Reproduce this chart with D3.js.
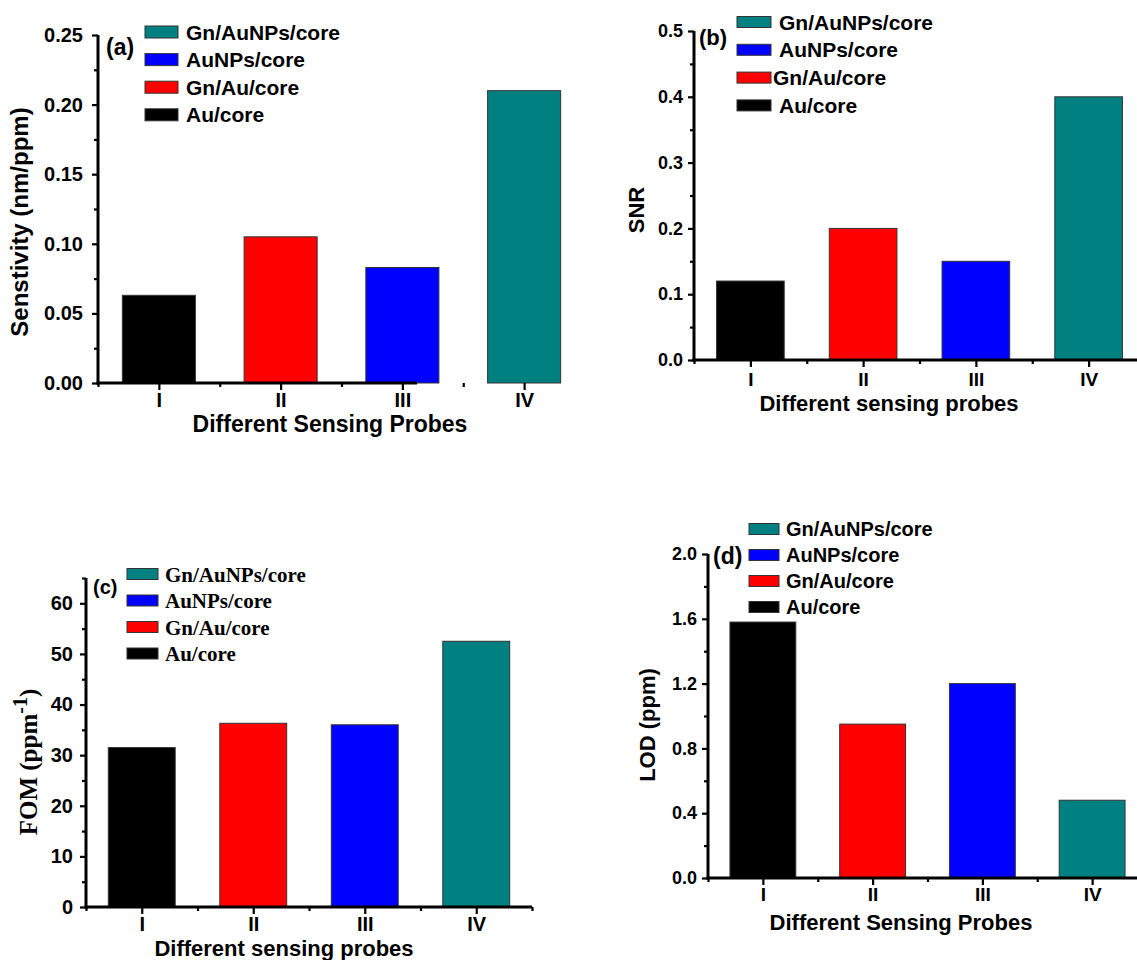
<!DOCTYPE html>
<html>
<head>
<meta charset="utf-8">
<script src="https://cdn.jsdelivr.net/npm/d3@7"></script>
<style>
  body { margin: 0; background: #fff; }
  svg { display: block; }
</style>
</head>
<body>
<svg id="fig" width="1137" height="960"></svg>
<script>
// ---- data ----
const probes = ["I", "II", "III", "IV"];
const materials = ["Au/core", "Gn/Au/core", "AuNPs/core", "Gn/AuNPs/core"];
const barColors = ["#000000", "#ff0000", "#0000ff", "#008080"];
const legendItems = ["Gn/AuNPs/core", "AuNPs/core", "Gn/Au/core", "Au/core"];
const legendColors = ["#008080", "#0000ff", "#ff0000", "#000000"];

const sensitivity = [0.063, 0.105, 0.083, 0.21];
const snr = [0.12, 0.20, 0.15, 0.40];
const fom = [31.5, 36.3, 36.0, 52.5];
const lod = [1.58, 0.95, 1.20, 0.48];

const sensTicks = [0, 0.05, 0.10, 0.15, 0.20, 0.25];
const snrTicks = [0, 0.1, 0.2, 0.3, 0.4, 0.5];
const fomTicks = [0, 10, 20, 30, 40, 50, 60];
const lodTicks = [0, 0.4, 0.8, 1.2, 1.6, 2.0];

const SANS = "'Liberation Sans', Arial, sans-serif";
const SERIF = "'Liberation Serif', 'Times New Roman', serif";

const svg = d3.select("#fig");

function minorBetween(ticks, extraTop) {
  const out = [];
  for (let i = 0; i < ticks.length - 1; i++) out.push((ticks[i] + ticks[i + 1]) / 2);
  if (extraTop !== undefined) out.push(extraTop);
  return out;
}

function drawPanel(p) {
  const g = svg.append("g");
  const x = d3.scaleLinear().domain([0.5, 4.5]).range([p.x0, p.x1]);
  const y = d3.scaleLinear().domain([0, p.yMax]).range([p.y0, p.y1]);
  const bw = (x(2) - x(1)) * 0.6;

  // bars
  g.selectAll("rect.bar").data(p.values).join("rect")
    .attr("class", "bar")
    .attr("x", (d, i) => x(i + 1) - bw / 2)
    .attr("y", d => y(d))
    .attr("width", bw)
    .attr("height", d => y(0) - y(d))
    .attr("fill", (d, i) => barColors[i])
    .attr("stroke", "#333")
    .attr("stroke-width", 1);

  // y axis: major + minor ticks
  const yAxis = g.append("g").attr("transform", `translate(${p.x0},0)`)
    .call(d3.axisLeft(y).tickValues(p.ticks).tickFormat(p.fmt)
      .tickSize(6).tickSizeOuter(0).tickPadding(p.yPad));
  yAxis.select(".domain").remove();
  g.append("g").attr("transform", `translate(${p.x0},0)`)
    .call(d3.axisLeft(y).tickValues(p.minor).tickFormat("").tickSize(4).tickSizeOuter(0))
    .select(".domain").remove();
  yAxis.selectAll("text")
    .style("font-family", SANS).style("font-weight", "bold")
    .style("font-size", p.yTickFont + "px").attr("fill", "#000");

  // x axis
  const xAxis = g.append("g").attr("transform", `translate(0,${p.y0})`)
    .call(d3.axisBottom(x).tickValues([1, 2, 3, 4]).tickFormat(d => probes[d - 1])
      .tickSize(7).tickSizeOuter(0).tickPadding(p.xPad));
  xAxis.select(".domain").remove();
  g.append("g").attr("transform", `translate(0,${p.y0})`)
    .call(d3.axisBottom(x).tickValues(p.xMinor).tickFormat("").tickSize(4).tickSizeOuter(0))
    .select(".domain").remove();
  xAxis.selectAll("text")
    .style("font-family", SANS).style("font-weight", "bold")
    .style("font-size", p.xTickFont + "px").attr("fill", "#000");

  g.selectAll(".tick line").attr("stroke", "#000").attr("stroke-width", 2.2);

  // axis lines
  g.append("line")
    .attr("x1", p.x0).attr("x2", p.x0)
    .attr("y1", y(0) + 1.5).attr("y2", y(p.yMax))
    .attr("stroke", "#000").attr("stroke-width", 3);
  g.append("line")
    .attr("x1", x(0.5) - 1.5).attr("x2", x(p.xEnd))
    .attr("y1", p.y0).attr("y2", p.y0)
    .attr("stroke", "#000").attr("stroke-width", 3);

  // axis titles
  g.append("text")
    .attr("x", p.xTitle[0]).attr("y", p.xTitle[1])
    .attr("text-anchor", "middle")
    .style("font-family", SANS).style("font-weight", "bold")
    .style("font-size", p.xTitleFont + "px")
    .text(p.xLabel);

  const yt = g.append("text")
    .attr("transform", `translate(${p.yTitle[0]},${p.yTitle[1]}) rotate(-90)`)
    .attr("text-anchor", "middle")
    .style("font-family", p.yTitleFamily || SANS).style("font-weight", "bold")
    .style("font-size", p.yTitleFont + "px");
  if (p.yLabelSup) {
    yt.append("tspan").text(p.yLabel);
    yt.append("tspan").attr("dy", -p.yTitleFont * 0.42).style("font-size", (p.yTitleFont * 0.8) + "px").text(p.yLabelSup);
    yt.append("tspan").attr("dy", p.yTitleFont * 0.42).text(")");
  } else {
    yt.text(p.yLabel);
  }

  // panel tag
  g.append("text")
    .attr("x", p.tag[0]).attr("y", p.tag[1])
    .style("font-family", SANS).style("font-weight", "bold")
    .style("font-size", p.tagFont + "px")
    .text(p.tagText);

  // legend
  const leg = g.append("g");
  legendItems.forEach((name, i) => {
    const cy = p.legY + i * p.legDy;
    leg.append("rect")
      .attr("x", p.legX).attr("y", cy - p.legH / 2)
      .attr("width", p.legW).attr("height", p.legH)
      .attr("fill", legendColors[i]).attr("stroke", "#333").attr("stroke-width", 1);
    leg.append("text")
      .attr("x", p.legTextX + (p.legTextDx ? p.legTextDx[i] : 0))
      .attr("y", cy + p.legFont * 0.36)
      .style("font-family", p.legFamily || SANS).style("font-weight", "bold")
      .style("font-size", p.legFont + "px")
      .text(name);
  });
}

// (a) sensitivity
drawPanel({
  values: sensitivity, yMax: 0.25, ticks: sensTicks, minor: minorBetween(sensTicks),
  fmt: d3.format(".2f"), xMinor: [0.5, 1.5, 2.5, 3.5],
  x0: 98, x1: 585, y0: 383, y1: 35, xEnd: 3.12,
  yPad: 9, xPad: 3, yTickFont: 20, xTickFont: 20,
  xLabel: "Different Sensing Probes", xTitle: [330, 432], xTitleFont: 23,
  yLabel: "Senstivity (nm/ppm)", yTitle: [28, 222], yTitleFont: 24,
  tagText: "(a)", tag: [106, 55], tagFont: 23,
  legX: 145, legY: 32, legDy: 27.6, legW: 33, legH: 12, legTextX: 186, legFont: 21
});

// (b) signal-to-noise ratio
drawPanel({
  values: snr, yMax: 0.5, ticks: snrTicks, minor: minorBetween(snrTicks),
  fmt: d3.format(".1f"), xMinor: [0.5, 1.5, 2.5, 3.5, 4.5],
  x0: 694, x1: 1145, y0: 360, y1: 31, xEnd: 4.5,
  yPad: 5, xPad: 6, yTickFont: 18, xTickFont: 19,
  xLabel: "Different sensing probes", xTitle: [889, 411], xTitleFont: 22,
  yLabel: "SNR", yTitle: [644, 210], yTitleFont: 22,
  tagText: "(b)", tag: [699, 45], tagFont: 22,
  legX: 737, legY: 22, legDy: 27.8, legW: 34, legH: 11, legTextX: 779, legTextDx: [0, 0, -6, 0], legFont: 21
});

// (c) figure of merit
drawPanel({
  values: fom, yMax: 65, ticks: fomTicks, minor: minorBetween(fomTicks, 65),
  fmt: d3.format("d"), xMinor: [0.5, 1.5, 2.5, 3.5, 4.5],
  x0: 86, x1: 532, y0: 907, y1: 578, xEnd: 4.5,
  yPad: 7, xPad: 3, yTickFont: 20, xTickFont: 20,
  xLabel: "Different sensing probes", xTitle: [284, 956], xTitleFont: 22,
  yLabel: "FOM (ppm", yLabelSup: "-1", yTitleFamily: SERIF, yTitle: [37, 762], yTitleFont: 25,
  tagText: "(c)", tag: [93, 594], tagFont: 20,
  legX: 127, legY: 574, legDy: 26.5, legW: 31, legH: 11, legTextX: 165, legFont: 21, legFamily: SERIF
});

// (d) limit of detection
drawPanel({
  values: lod, yMax: 2.0, ticks: lodTicks, minor: minorBetween(lodTicks),
  fmt: d3.format(".1f"), xMinor: [0.5, 1.5, 2.5, 3.5, 4.5],
  x0: 708, x1: 1147, y0: 878, y1: 554, xEnd: 4.5,
  yPad: 5, xPad: 3, yTickFont: 18, xTickFont: 19,
  xLabel: "Different Sensing Probes", xTitle: [901, 930], xTitleFont: 22,
  yLabel: "LOD (ppm)", yTitle: [655, 725], yTitleFont: 22,
  tagText: "(d)", tag: [713, 564], tagFont: 23,
  legX: 749, legY: 529, legDy: 26, legW: 30, legH: 11, legTextX: 786, legFont: 20
});
</script>
</body>
</html>
